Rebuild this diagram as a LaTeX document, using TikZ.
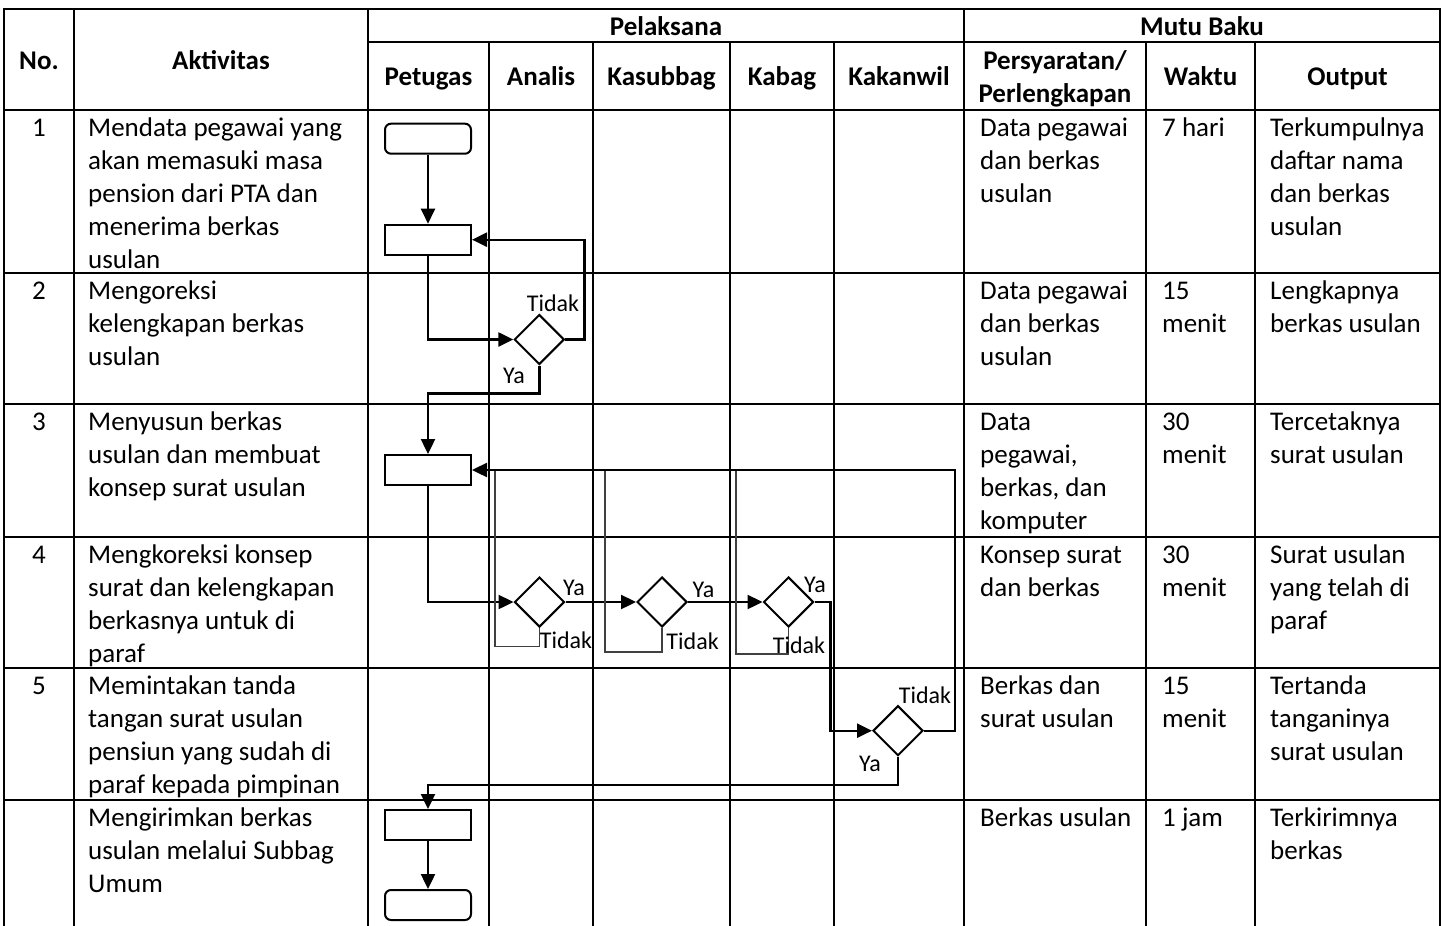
\documentclass[tikz,border=0pt]{standalone}
\usepackage{fontspec}
\setmainfont{Carlito}
\usepackage{tikz}
\usetikzlibrary{arrows.meta,positioning,shapes.geometric}
\newcommand{\bodyfont}{\fontsize{27}{33}\selectfont}
\newcommand{\lblfont}{\fontsize{24}{28}\selectfont}

\begin{document}
\begin{tikzpicture}[x=1pt, y=-1pt,
  grid/.style={line width=2.2pt, black, line cap=rect},
  hd/.style={font=\bodyfont\bfseries, align=center, inner sep=0pt},
  cell/.style={font=\bodyfont, align=flush left, text width=170pt, anchor=base west,
    inner sep=0pt},
  term/.style={draw, line width=2pt, rounded corners=6pt, minimum width=86pt,
    minimum height=30pt, inner sep=0pt},
  proc/.style={draw, line width=2pt, minimum width=86pt, minimum height=30pt,
    inner sep=0pt},
  dec/.style={draw, diamond, aspect=1, line width=2pt, minimum width=50pt,
    minimum height=50pt, inner sep=0pt},
  e/.style={-{Triangle[length=15pt,width=14pt]}, line width=2.4pt},
  lp/.style={line width=1.1pt, black!75},
  lbl/.style={font=\lblfont, inner sep=0pt}
]
  \useasboundingbox (0,0) rectangle (1446,926);
  % table rules
  \foreach \y in {9,110,272.7,404,536.7,668.3,800}
    \draw[grid] (4,\y) -- (1440,\y);
  \draw[grid] (368,42) -- (1440,42);
  \foreach \x in {4,74,368,964,1440}
    \draw[grid] (\x,9) -- (\x,926);
  \foreach \x in {489,593,730,834,1146,1255}
    \draw[grid] (\x,42) -- (\x,926);

  % header
  \node[hd, anchor=base] (hno) at (39,69) {No.};
  \node[hd, anchor=base] (hakt) at (221,69) {Aktivitas};
  \node[hd, anchor=base] (hpel) at (666,35) {Pelaksana};
  \node[hd, anchor=base] (hmutu) at (1202,35) {Mutu Baku};
  \node[hd, anchor=base] (hpet) at (428.5,85) {Petugas};
  \node[hd, anchor=base] (hana) at (541,85) {Analis};
  \node[hd, anchor=base] (hksb) at (661.5,85) {Kasubbag};
  \node[hd, anchor=base] (hkbg) at (782,85) {Kabag};
  \node[hd, anchor=base] (hkkw) at (899,85) {Kakanwil};
  \node[hd] (hsyr) at (1055,79) {Persyaratan/\\Perlengkapan};
  \node[hd, anchor=base] (hwkt) at (1200.5,85) {Waktu};
  \node[hd, anchor=base] (hout) at (1347.5,85) {Output};

  % rows
  \foreach \i/\y in {1/110,2/272.7,3/404,4/536.7,5/668.3}
    \node[font=\bodyfont, anchor=base, inner sep=0pt] (n\i) at (39,{\y+26.5}) {\i};

  \node[cell, text width=270pt] (act1) at (88,136.5) {Mendata pegawai yang\\akan memasuki masa\\pension dari PTA dan\\menerima berkas\\usulan};
  \node[cell] (req1) at (980,136.5) {Data pegawai\\dan berkas\\usulan};
  \node[cell, text width=90pt] (wkt1) at (1162,136.5) {7 hari};
  \node[cell] (out1) at (1270,136.5) {Terkumpulnya\\daftar nama\\dan berkas\\usulan};

  \node[cell, text width=270pt] (act2) at (88,299.2) {Mengoreksi\\kelengkapan berkas\\usulan};
  \node[cell] (req2) at (980,299.2) {Data pegawai\\dan berkas\\usulan};
  \node[cell, text width=90pt] (wkt2) at (1162,299.2) {15\\menit};
  \node[cell] (out2) at (1270,299.2) {Lengkapnya\\berkas usulan};

  \node[cell, text width=270pt] (act3) at (88,430.5) {Menyusun berkas\\usulan dan membuat\\konsep surat usulan};
  \node[cell] (req3) at (980,430.5) {Data\\pegawai,\\berkas, dan\\komputer};
  \node[cell, text width=90pt] (wkt3) at (1162,430.5) {30\\menit};
  \node[cell] (out3) at (1270,430.5) {Tercetaknya\\surat usulan};

  \node[cell, text width=270pt] (act4) at (88,563.2) {Mengkoreksi konsep\\surat dan kelengkapan\\berkasnya untuk di\\paraf};
  \node[cell] (req4) at (980,563.2) {Konsep surat\\dan berkas};
  \node[cell, text width=90pt] (wkt4) at (1162,563.2) {30\\menit};
  \node[cell] (out4) at (1270,563.2) {Surat usulan\\yang telah di\\paraf};

  \node[cell, text width=270pt] (act5) at (88,694.8) {Memintakan tanda\\tangan surat usulan\\pensiun yang sudah di\\paraf kepada pimpinan};
  \node[cell] (req5) at (980,694.8) {Berkas dan\\surat usulan};
  \node[cell, text width=90pt] (wkt5) at (1162,694.8) {15\\menit};
  \node[cell] (out5) at (1270,694.8) {Tertanda\\tanganinya\\surat usulan};

  \node[cell, text width=270pt] (act6) at (88,826.5) {Mengirimkan berkas\\usulan melalui Subbag\\Umum};
  \node[cell] (req6) at (980,826.5) {Berkas usulan};
  \node[cell, text width=90pt] (wkt6) at (1162,826.5) {1 jam};
  \node[cell] (out6) at (1270,826.5) {Terkirimnya\\berkas};

  % flow
  \node[term] (start) at (428,138.7) {};
  \node[proc, below=69pt of start] (p1) {};
  \node[dec] (d1) at (539.3,339.5) {};
  \node[proc] (p3) at (428,470) {};
  \node[dec] (dA) at (539.5,602) {};
  \node[dec, right=70.5pt of dA] (dB) {};
  \node[dec, right=74.5pt of dB] (dC) {};
  \node[dec] (dD) at (898,730.7) {};
  \node[proc] (p6) at (428,825) {};
  \node[term, below=48pt of p6] (stop) {};

  \coordinate (rA) at (495,471);
  \coordinate (rB) at (605,471);
  \coordinate (rC) at (736,471);

  \draw[e] (start) -- (p1);
  \draw[e] (p1.south) |- (d1.west);
  \draw[e] (d1.east) -- ++(19,0) |- (p1.east);
  \draw[e] (d1.south) -- ++(0,28) -| (p3.north);
  \draw[e] (p3.south) |- (dA.west);
  \draw[e] (dA) -- (dB);
  \draw[e] (dB) -- (dC);
  \draw[e] (dC.east) -- ++(16,0) |- (dD.west);
  \draw[e] (dD.east) -- ++(31,0) |- (p3.east);
  \draw[e] (dD.south) -- ++(0,28) -| (p6.north);
  \draw[e] (p6) -- (stop);
  \foreach \d/\r/\h in {dA/rA/18.5,dB/rB/24,dC/rC/26}
    \draw[lp] (\d.south) -- ++(0,\h) -| (\r);

  \node[lbl] (t1) at (553,303) {Tidak};
  \node[lbl] (y1) at (514,376) {Ya};
  \node[lbl] (yA) at (574,588) {Ya};
  \node[lbl] (tA) at (566,640) {Tidak};
  \node[lbl] (yB) at (703.5,590) {Ya};
  \node[lbl] (tB) at (692.6,641) {Tidak};
  \node[lbl] (yC) at (815,585) {Ya};
  \node[lbl] (tC) at (799,645) {Tidak};
  \node[lbl] (tD) at (925,695) {Tidak};
  \node[lbl] (yD) at (870,764) {Ya};
\end{tikzpicture}
\end{document}
